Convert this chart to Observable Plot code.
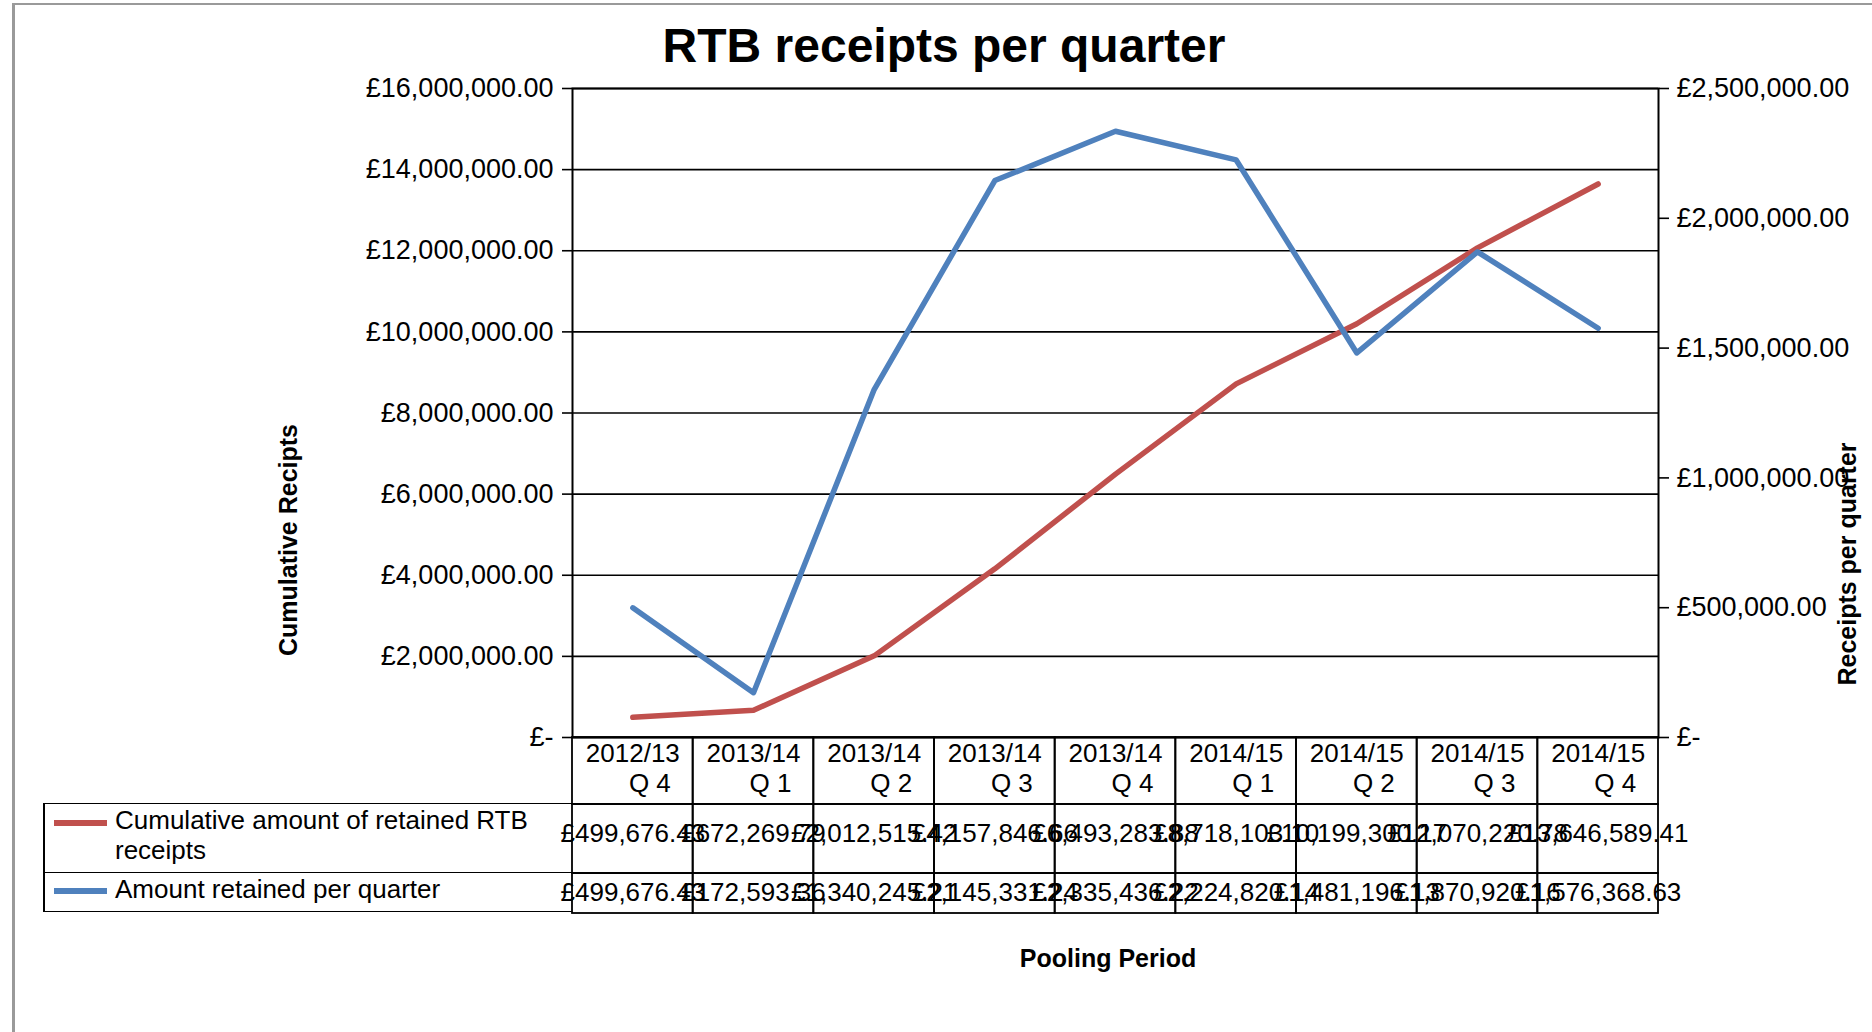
<!DOCTYPE html>
<html>
<head>
<meta charset="utf-8">
<script src="https://cdn.jsdelivr.net/npm/d3@7"></script>
<script src="https://cdn.jsdelivr.net/npm/@observablehq/plot@0.6"></script>
<style>
  html, body { margin: 0; padding: 0; background: #fff; }
  #root { position: relative; width: 1872px; height: 1032px; overflow: hidden; font-family: "Liberation Sans", Arial, sans-serif; color: #000; }
  .abs { position: absolute; }
  .plot-wrap svg { background: none !important; overflow: visible; }
</style>
</head>
<body>
<div id="root"></div>
<script>
// ---------------- data ----------------
const categories = ["2012/13 Q 4", "2013/14 Q 1", "2013/14 Q 2", "2013/14 Q 3", "2013/14 Q 4",
                    "2014/15 Q 1", "2014/15 Q 2", "2014/15 Q 3", "2014/15 Q 4"];
const yearLabels = ["2012/13", "2013/14", "2013/14", "2013/14", "2013/14", "2014/15", "2014/15", "2014/15", "2014/15"];
const quarterLabels = ["Q 4", "Q 1", "Q 2", "Q 3", "Q 4", "Q 1", "Q 2", "Q 3", "Q 4"];
const cumulative = [499676.43, 672269.79, 2012515.42, 4157846.66, 6493283.88, 8718103.10, 10199300.17, 12070220.78, 13646589.41];
const perQuarter = [499676.43, 172593.36, 1340245.21, 2145331.24, 2335436.22, 2224820.14, 1481196.13, 1870920.16, 1576368.63];
const leftTicks = [0, 2000000, 4000000, 6000000, 8000000, 10000000, 12000000, 14000000, 16000000];
const rightTicks = [0, 500000, 1000000, 1500000, 2000000, 2500000];
const seriesNames = ["Cumulative amount of retained RTB receipts", "Amount retained per quarter"];
const seriesColors = ["#C0504D", "#4F81BD"];
const titleText = "RTB receipts per quarter";
const leftTitle = "Cumulative Recipts";
const rightTitle = "Receipts per quarter";
const xTitle = "Pooling Period";

// ---------------- layout ----------------
const W = 1872;
const ML = 572, MR = 214;           // plot frame 572 .. 1658
const PTOP = 88, PBOT = 737;        // plot frame top/bottom
const rowLabel = [737, 804], rowCum = [804, 873], rowPer = [873, 913];
const FONT = "'Liberation Sans', Arial, Helvetica, sans-serif";

const ratio = d3.max(leftTicks) / d3.max(rightTicks);
const money = d3.format(",.2f");
const fmt = v => v === 0 ? "£-" : "£" + money(v);

const rows = categories.map((c, i) => ({
  cat: c, year: yearLabels[i], q: quarterLabels[i],
  cum: cumulative[i], per: perQuarter[i]
}));

const root = document.getElementById("root");
function place(node, left, top) {
  const d = document.createElement("div");
  d.className = "abs plot-wrap";
  d.style.left = left + "px";
  d.style.top = top + "px";
  d.appendChild(node);
  root.appendChild(d);
  return d;
}
function label(text, css) {
  const d = document.createElement("div");
  d.className = "abs";
  d.textContent = text;
  Object.assign(d.style, css);
  root.appendChild(d);
  return d;
}

// outer gray border (top + left)
const border = document.createElement("div");
border.className = "abs";
Object.assign(border.style, {left: "12px", top: "3px", width: "1900px", height: "1100px",
  borderTop: "2px solid #9a9a9a", borderLeft: "3px solid #9a9a9a"});
root.appendChild(border);

// ---------------- main chart ----------------
const mainH = 765;
const main = Plot.plot({
  width: W, height: mainH,
  marginLeft: ML, marginRight: MR, marginTop: PTOP, marginBottom: mainH - PBOT,
  style: {fontFamily: FONT, fontSize: "27px", color: "#000", background: "none", overflow: "visible"},
  x: {type: "band", domain: categories, padding: 0, round: false, axis: null},
  y: {domain: [0, d3.max(leftTicks)]},
  marks: [
    Plot.ruleY(leftTicks, {stroke: "#000", strokeWidth: 1.6}),
    Plot.axisY(leftTicks, {anchor: "left", tickSize: 10, tickPadding: 9, tickFormat: fmt,
      fontSize: 27, label: null, stroke: "#000", strokeWidth: 1.6}),
    Plot.axisY(rightTicks.map(v => v * ratio), {anchor: "right", tickSize: 10, tickPadding: 8,
      tickFormat: d => fmt(Math.round(d / ratio)), fontSize: 27, label: null, stroke: "#000", strokeWidth: 1.6}),
    Plot.frame({stroke: "#000", strokeWidth: 2}),
    Plot.line(rows, {x: "cat", y: "cum", stroke: seriesColors[0], strokeWidth: 5.5, strokeLinejoin: "round"}),
    Plot.line(rows, {x: "cat", y: d => d.per * ratio, stroke: seriesColors[1], strokeWidth: 5.5, strokeLinejoin: "round"})
  ]
});
place(main, 0, 0);

// ---------------- data table rows ----------------
function tableRow([top, bottom], textMarks) {
  const pad = 2;
  const h = bottom - top;
  const p = Plot.plot({
    width: W, height: h + 2 * pad,
    marginLeft: ML, marginRight: MR, marginTop: pad, marginBottom: pad,
    style: {fontFamily: FONT, fontSize: "26px", color: "#000", background: "none", overflow: "visible"},
    x: {type: "band", domain: categories, padding: 0, round: false, axis: null},
    marks: [
      Plot.cell(rows, {x: "cat", fill: "none", stroke: "#000", strokeWidth: 1.8, inset: 0}),
      ...textMarks
    ]
  });
  place(p, 0, top - pad);
}

tableRow(rowLabel, [
  Plot.text(rows, {x: "cat", text: "year", dy: -17, fontSize: 26, fill: "#000"}),
  Plot.text(rows, {x: "cat", text: "q", dy: 13, dx: 17, fontSize: 26, fill: "#000"})
]);
tableRow(rowCum, [
  Plot.text(rows, {x: "cat", text: d => fmt(d.cum), dy: -5, fontSize: 26, fill: "#000"})
]);
tableRow(rowPer, [
  Plot.text(rows, {x: "cat", text: d => fmt(d.per), dy: -1, fontSize: 26, fill: "#000"})
]);

// legend box (left part of the data table)
const legendBox = document.createElement("div");
legendBox.className = "abs";
Object.assign(legendBox.style, {left: "43px", top: (rowCum[0] - 1) + "px", width: (ML - 43) + "px",
  height: (rowPer[1] - rowCum[0]) + "px", borderLeft: "2px solid #000", borderTop: "1.8px solid #000",
  borderBottom: "1.8px solid #000", boxSizing: "border-box"});
root.appendChild(legendBox);
const divider = document.createElement("div");
divider.className = "abs";
Object.assign(divider.style, {left: "43px", top: (rowPer[0] - 1) + "px", width: (ML - 43) + "px",
  height: "0px", borderTop: "1.8px solid #000"});
root.appendChild(divider);

[[seriesNames[0], seriesColors[0], rowCum[0] + 1, 823], [seriesNames[1], seriesColors[1], rowPer[0] + 1, 891]]
  .forEach(([name, color, top, lineY]) => {
    const sw = document.createElement("div");
    sw.className = "abs";
    Object.assign(sw.style, {left: "54px", top: (lineY - 3) + "px", width: "53px", height: "6px", background: color});
    root.appendChild(sw);
    label(name, {left: "115px", top: top + "px", width: "445px", fontSize: "26px", lineHeight: "30px",
      fontFamily: FONT});
  });

// ---------------- titles ----------------
label(titleText, {left: "944px", top: "45px", transform: "translate(-50%, -50%)", fontSize: "48px",
  fontWeight: "bold", whiteSpace: "nowrap", fontFamily: FONT});
label(leftTitle, {left: "288px", top: "540px", transform: "translate(-50%, -50%) rotate(-90deg)",
  fontSize: "25px", fontWeight: "bold", whiteSpace: "nowrap", fontFamily: FONT});
label(rightTitle, {left: "1847px", top: "564px", transform: "translate(-50%, -50%) rotate(-90deg)",
  fontSize: "25px", fontWeight: "bold", whiteSpace: "nowrap", fontFamily: FONT});
label(xTitle, {left: "1108px", top: "958px", transform: "translate(-50%, -50%)",
  fontSize: "25px", fontWeight: "bold", whiteSpace: "nowrap", fontFamily: FONT});
</script>
</body>
</html>
